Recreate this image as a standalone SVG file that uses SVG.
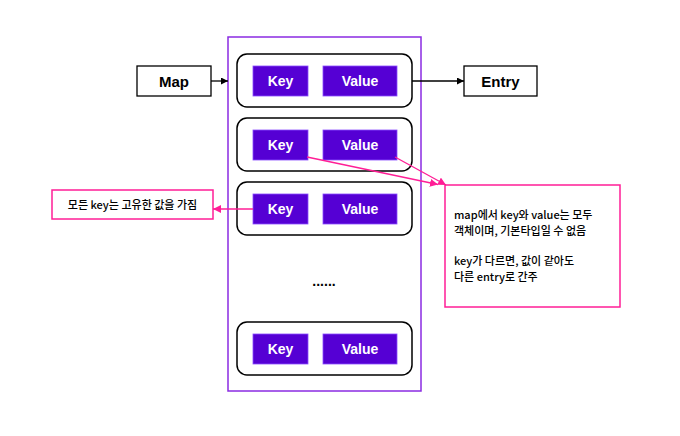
<svg xmlns="http://www.w3.org/2000/svg" width="680" height="436" viewBox="0 0 680 436">
<defs>
<style>
.entry{fill:#fff;stroke:#000;stroke-width:1.5}
.k{fill:#5500d4;stroke:#8a4dff;stroke-width:0.8}
.kt{fill:#fff;font-family:"Liberation Sans",Arial,sans-serif;font-weight:bold;font-size:14px;text-anchor:middle}
.bt{fill:#000;font-family:"Liberation Sans",Arial,sans-serif;font-weight:bold;font-size:15px;text-anchor:middle}
.box{fill:#fff;stroke:#000;stroke-width:1.3}
.note{fill:#fff;stroke:#ff1e96;stroke-width:1.5}
.nt{fill:#000;font-family:"Noto Sans CJK KR","Liberation Sans",sans-serif;font-weight:500;font-size:11px}
.bl{stroke:#000;stroke-width:1.3;fill:none}
.pl{stroke:#ff1e96;stroke-width:1.3;fill:none}
</style>
<marker id="ab" viewBox="0 0 10 10" refX="10" refY="5" markerWidth="7" markerHeight="7" markerUnits="userSpaceOnUse" orient="auto"><path d="M0,0L10,5L0,10z" fill="#000"/></marker>
<marker id="ap" viewBox="0 0 10 10" refX="10" refY="5" markerWidth="8" markerHeight="8" markerUnits="userSpaceOnUse" orient="auto"><path d="M0,0L10,5L0,10z" fill="#ff1e96"/></marker>
</defs>
<g id="map-container"><rect x="228" y="37" width="193" height="354" fill="#fff" stroke="#8a2be2" stroke-width="1.5"/></g>
<g id="map"><rect class="box" x="137" y="66" width="74" height="30"/><text class="bt" x="174" y="86.5">Map</text></g>
<g id="entry"><rect class="box" x="464" y="66" width="73" height="30"/><text class="bt" x="500.5" y="86.5">Entry</text></g>
<g id="row1"><rect class="entry" x="237" y="54" width="175" height="53" rx="10"/><rect class="k" x="253" y="66" width="55" height="30"/><text class="kt" x="280.5" y="86">Key</text><rect class="k" x="323" y="66" width="74" height="30"/><text class="kt" x="360" y="86">Value</text></g>
<g id="row2"><rect class="entry" x="237" y="118" width="175" height="53" rx="10"/><rect class="k" x="253" y="130" width="55" height="30"/><text class="kt" x="280.5" y="150">Key</text><rect class="k" x="323" y="130" width="74" height="30"/><text class="kt" x="360" y="150">Value</text></g>
<g id="row3"><rect class="entry" x="237" y="182" width="175" height="53" rx="10"/><rect class="k" x="253" y="194" width="55" height="30"/><text class="kt" x="280.5" y="214">Key</text><rect class="k" x="323" y="194" width="74" height="30"/><text class="kt" x="360" y="214">Value</text></g>
<g id="ellipsis"><text x="324" y="286" font-family="Liberation Sans,Arial,sans-serif" font-size="14" font-weight="bold" text-anchor="middle" fill="#000">......</text></g>
<g id="row4"><rect class="entry" x="237" y="322" width="175" height="53" rx="10"/><rect class="k" x="253" y="334" width="55" height="30"/><text class="kt" x="280.5" y="354">Key</text><rect class="k" x="323" y="334" width="74" height="30"/><text class="kt" x="360" y="354">Value</text></g>
<g id="note-left"><rect class="note" x="52" y="190" width="161" height="29"/><text class="nt" x="132.5" y="208.5" text-anchor="middle">모든 key는 고유한 값을 가짐</text></g>
<g id="note-right"><rect class="note" x="445" y="185" width="175" height="122"/>
<text class="nt" x="454" y="219">map에서 key와 value는 모두</text>
<text class="nt" x="454" y="235">객체이며, 기본타입일 수 없음</text>
<text class="nt" x="454" y="265">key가 다르면, 값이 같아도</text>
<text class="nt" x="454" y="281">다른 entry로 간주</text></g>
<g id="connectors">
<line class="bl" x1="211" y1="81" x2="228" y2="81" marker-end="url(#ab)"/>
<line class="bl" x1="412" y1="81" x2="464" y2="81" marker-end="url(#ab)"/>
<line class="pl" x1="253" y1="209" x2="213" y2="209" marker-end="url(#ap)"/>
<line class="pl" x1="307" y1="157" x2="438" y2="184.5" marker-end="url(#ap)"/>
<line class="pl" x1="395" y1="157" x2="446" y2="185" marker-end="url(#ap)"/>
</g>
</svg>
